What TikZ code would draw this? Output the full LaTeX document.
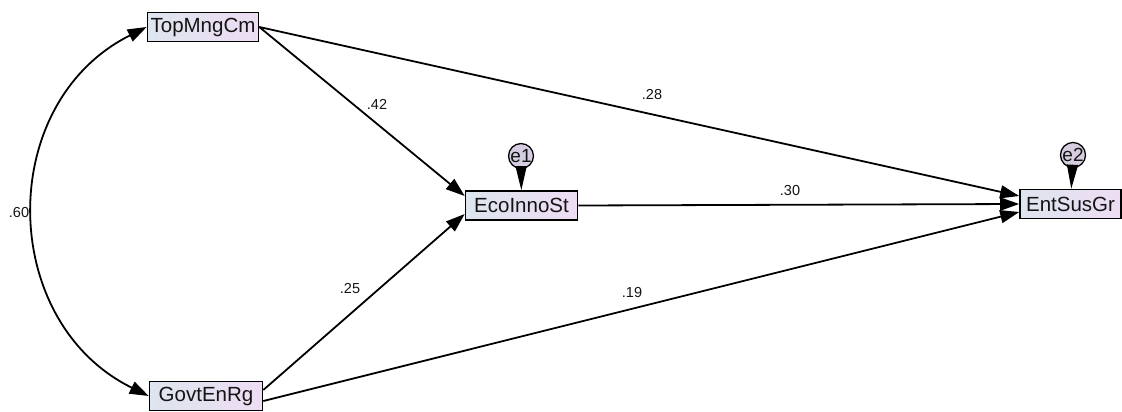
\documentclass[tikz,border=0pt]{standalone}
\usepackage{fontspec}
\setmainfont{Liberation Sans}
\usetikzlibrary{arrows.meta,calc}
\definecolor{boxleft}{RGB}{221,229,238}
\definecolor{boxright}{RGB}{238,221,243}
\definecolor{errfill}{RGB}{214,206,224}
\definecolor{ink}{RGB}{20,20,20}
\begin{document}
\begin{tikzpicture}[x=1pt,y=-1pt,
  var/.style={draw=black, line width=1.6pt, left color=boxleft, right color=boxright,
    minimum height=29pt, inner sep=0pt, text=ink, font=\fontsize{20.5}{22}\selectfont},
  regarrow/.style={line width=1.8pt, -{Triangle[length=19pt,width=13pt]}},
  covarrow/.style={line width=1.8pt, {Triangle[length=19pt,width=13pt]}-{Triangle[length=19pt,width=13pt]}},
  coef/.style={text=ink, font=\fontsize{14.5}{16}\selectfont, inner sep=0pt},
  err/.style={circle, draw=black, line width=1.3pt, fill=errfill, minimum size=20pt,
    inner sep=0pt, text=ink, font=\fontsize{19}{19}\selectfont},
  errarrow/.style={line width=1pt, -{Triangle[length=24pt,width=11pt]}}]
\useasboundingbox (0,0) rectangle (1122,412);

% observed variables
\node[var, minimum width=111pt] (top)  at (203,27)      {TopMngCm};
\node[var, minimum width=112pt] (eco)  at (521.5,205.5) {EcoInnoSt};
\node[var, minimum width=101pt] (ent)  at (1070.5,204)  {EntSusGr};
\node[var, minimum width=113pt] (govt) at (206,396)     {GovtEnRg};

% error terms
\node[err] (e1) at (521,156)  {e1};
\node[err] (e2) at (1073,155) {e2};
\draw[errarrow] (e1) -- (eco);
\draw[errarrow] (e2) -- (ent);

% regression paths
\draw[regarrow] (top.east) -- ([yshift=9.5pt]eco.west);
\draw[regarrow] (top.east) -- ([yshift=8pt]ent.west);
\draw[regarrow] (eco.east) -- (ent.west);
\draw[regarrow] ([yshift=6pt]govt.east) -- ([yshift=-8.5pt]eco.west);
\draw[regarrow] ([yshift=-5pt]govt.east) -- ([yshift=-8pt]ent.west);

% covariance
\draw[covarrow] (top.west) .. controls (-5,103) and (-2,322) .. (govt.west);

% coefficients
\node[coef] (c42) at (377,104) {.42};
\node[coef] (c28) at (652,95)  {.28};
\node[coef] (c30) at (790,191) {.30};
\node[coef] (c25) at (350,289) {.25};
\node[coef] (c19) at (632,293) {.19};
\node[coef] (c60) at (19,213)  {.60};
\end{tikzpicture}
\end{document}
